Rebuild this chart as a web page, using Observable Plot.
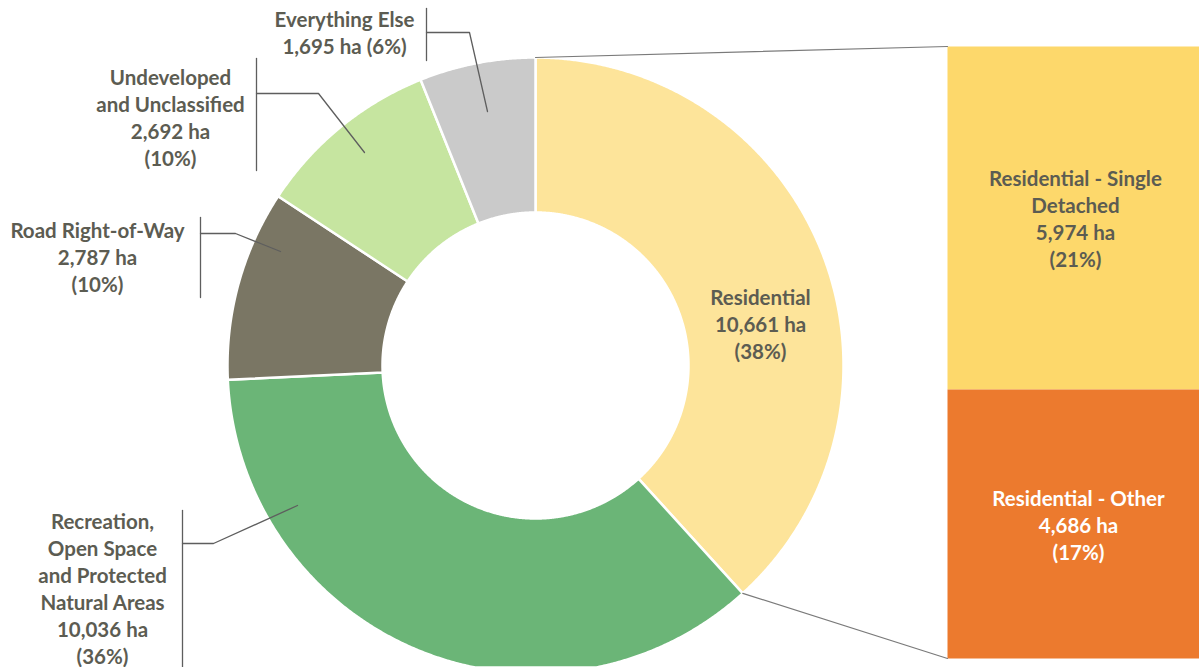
<!DOCTYPE html>
<html><head><meta charset="utf-8">
<script src="https://cdn.jsdelivr.net/npm/d3@7"></script>
<script src="https://cdn.jsdelivr.net/npm/@observablehq/plot@0.6"></script>
<style>body{margin:0;background:#fff}#chart svg{display:block}</style>
</head><body><div id="chart"></div>
<script>
// ---- data ----
const categories = ["Residential", "Recreation, Open Space and Protected Natural Areas", "Road Right-of-Way", "Undeveloped and Unclassified", "Everything Else"];
const labelNames = ["Residential", "Recreation,\nOpen Space\nand Protected\nNatural Areas", "Road Right-of-Way", "Undeveloped\nand Unclassified", "Everything Else"];
const values = [10661, 10036, 2787, 2692, 1695];
const subCategories = ["Residential - Single Detached", "Residential - Other"];
const subLabelNames = ["Residential - Single\nDetached", "Residential - Other"];
const subValues = [5974, 4686];
const unit = "ha";

// ---- styles ----
const palette = ["#FDE49A", "#6BB577", "#7A7664", "#C6E5A0", "#CACACA"];
const subPalette = ["#FDD86B", "#EC7A2E"];

// ---- layout (pixels) ----
const W = 1199, H = 667, CX = 535, CY = 365, R_OUT = 308, R_IN = 153;
const BAR = {x0: 947, x1: 1199, y0: 46, y1: 658};
const callouts = {
  "Everything Else": {x: 344, y: 31.5, inline: true, bracket: [[426, 8], [426, 60]], path: [[426, 32], [469, 32], [487, 111]]},
  "Undeveloped and Unclassified": {x: 170, y: 116, bracket: [[256, 58], [256, 170]], path: [[256, 93], [318, 93], [364, 152]]},
  "Road Right-of-Way": {x: 97, y: 256, bracket: [[200, 217], [200, 297]], path: [[200, 233], [235, 233], [280, 251]]},
  "Recreation, Open Space and Protected Natural Areas": {x: 102, y: 587, bracket: [[182, 510], [182, 667]], path: [[182, 543], [213, 543], [297, 505]]},
  "Residential": {x: 760, y: 323}
};
const subLabelPos = [{x: 1075, y: 217}, {x: 1078, y: 524}];

// ---- geometry from data ----
const total = d3.sum(values);
const fmt = d3.format(",");
const pct = v => Math.round(v / total * 100) + "%";
const pt = (a, r) => [CX + r * Math.sin(a), CY - r * Math.cos(a)];
let acc = 0;
const slices = categories.map((c, i) => {
  const a0 = acc / total * 2 * Math.PI; acc += values[i];
  const a1 = acc / total * 2 * Math.PI;
  return {category: c, a0, a1, value: values[i], name: labelNames[i]};
});
function ring(a0, a1) {
  const n = Math.max(2, Math.ceil((a1 - a0) / 0.005));
  const outer = d3.range(n + 1).map(k => pt(a0 + (a1 - a0) * k / n, R_OUT));
  const inner = d3.range(n + 1).map(k => pt(a1 - (a1 - a0) * k / n, R_IN));
  return [...outer, ...inner, outer[0]];
}
const sliceFeatures = slices.map(s => ({type: "Feature", properties: {category: s.category}, geometry: {type: "Polygon", coordinates: [ring(s.a0, s.a1)]}}));

const subTotal = d3.sum(subValues);
let yAcc = BAR.y0;
const barFeatures = subCategories.map((c, i) => {
  const y0 = yAcc; const y1 = yAcc + (BAR.y1 - BAR.y0) * subValues[i] / subTotal; yAcc = y1;
  return {type: "Feature", properties: {category: c}, geometry: {type: "Polygon", coordinates: [[[BAR.x0, y0], [BAR.x1, y0], [BAR.x1, y1], [BAR.x0, y1], [BAR.x0, y0]]]}};
});

const res = slices[0];
const connectors = [
  {type: "LineString", coordinates: [pt(res.a0, R_OUT), [BAR.x0, BAR.y0]]},
  {type: "LineString", coordinates: [pt(res.a1, R_OUT), [BAR.x0, BAR.y1]]}
];

const leaderLines = [];
slices.forEach(s => {
  const c = callouts[s.category];
  if (c && c.path) {
    leaderLines.push({type: "LineString", coordinates: c.bracket});
    leaderLines.push({type: "LineString", coordinates: c.path});
  }
});

const labels = slices.map(s => {
  const c = callouts[s.category];
  const txt = c.inline ? `${s.name}\n${fmt(s.value)} ${unit} (${pct(s.value)})` : `${s.name}\n${fmt(s.value)} ${unit}\n(${pct(s.value)})`;
  return {x: c.x, y: c.y, text: txt, white: false};
});
subCategories.forEach((c, i) => {
  labels.push({x: subLabelPos[i].x, y: subLabelPos[i].y, text: `${subLabelNames[i]}\n${fmt(subValues[i])} ${unit}\n(${pct(subValues[i])})`, white: i === 1});
});

const chart = Plot.plot({
  width: W, height: H,
  margin: 0,
  projection: {type: "identity", domain: {type: "MultiPoint", coordinates: [[0, 0], [W, H]]}},
  color: {domain: [...categories, ...subCategories], range: [...palette, ...subPalette]},
  style: {background: "#fff"},
  marks: [
    Plot.geo(sliceFeatures, {fill: d => d.properties.category, stroke: "white", strokeWidth: 2.5}),
    Plot.geo(barFeatures, {fill: d => d.properties.category}),
    Plot.geo(connectors, {stroke: "#7a7a7a", strokeWidth: 1.2, fill: "none"}),
    Plot.geo(leaderLines, {stroke: "#5e5e5e", strokeWidth: 1.3, fill: "none"}),
    Plot.text(labels, {x: "x", y: "y", text: "text", fill: d => d.white ? "#ffffff" : "#5c5c52",
      fontSize: 20.5, fontWeight: "bold", fontFamily: "Lato", lineHeight: 1.32, textAnchor: "middle"})
  ]
});
document.getElementById("chart").append(chart);
</script>
</body></html>
